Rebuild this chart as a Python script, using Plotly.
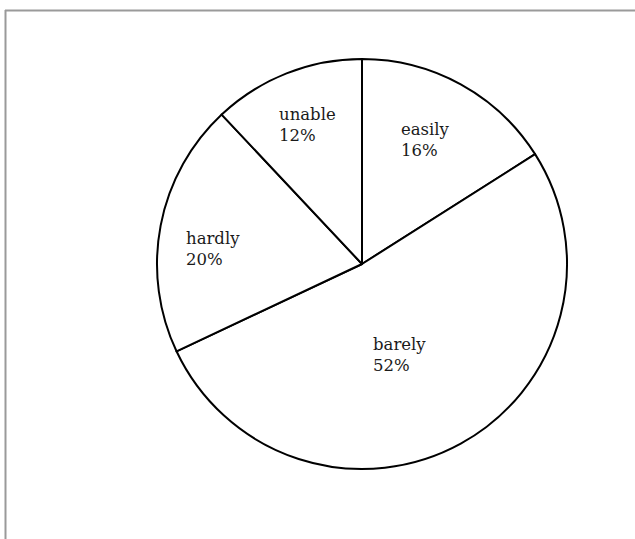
import math
import plotly.graph_objects as go

# Pie data
labels = ["easily", "barely", "hardly", "unable"]
values = [16, 52, 20, 12]

W, H = 635, 539
CX, CY, R = 362, 264, 205  # pie centre and radius in pixels

# Label placement: fraction of radius and angle tweak (degrees) per slice
label_place = {
    "easily": (0.68, -1.5),
    "barely": (0.48, 6.5),
    "hardly": (0.73, -5.0),
    "unable": (0.73, 0.2),
}

fig = go.Figure(
    go.Pie(
        labels=labels,
        values=values,
        sort=False,
        direction="clockwise",
        rotation=0,
        textinfo="none",
        hoverinfo="label+percent",
        marker=dict(colors=["white"] * len(values), line=dict(color="black", width=2)),
        domain=dict(
            x=[(CX - R) / W, (CX + R) / W],
            y=[(H - CY - R) / H, (H - CY + R) / H],
        ),
        showlegend=False,
    )
)

# Text labels at slice bisectors, left-aligned name and percent
total = sum(values)
annotations = []
start = 0.0
for lab, v in zip(labels, values):
    frac, tweak = label_place[lab]
    mid = (start + v / 2) / total * 360 + tweak
    start += v
    rad = math.radians(mid)
    px = CX + frac * R * math.sin(rad)
    py = CY - frac * R * math.cos(rad)
    pct = round(v / total * 100)
    annotations.append(
        dict(
            x=px / W,
            y=1 - py / H,
            xref="paper",
            yref="paper",
            text=f"{lab}<br>{pct}%",
            showarrow=False,
            align="left",
            xanchor="center",
            yanchor="middle",
            font=dict(family="DejaVu Serif", size=16.5, color="#1a1a1a"),
        )
    )

# Thin gray frame along the top and left edges
shapes = [
    dict(type="line", xref="paper", yref="paper",
         x0=5 / W, x1=1, y0=1 - 10.5 / H, y1=1 - 10.5 / H,
         line=dict(color="#9a9a9a", width=2)),
    dict(type="line", xref="paper", yref="paper",
         x0=5.5 / W, x1=5.5 / W, y0=0, y1=1 - 10 / H,
         line=dict(color="#9a9a9a", width=2)),
]

fig.update_layout(
    width=W,
    height=H,
    margin=dict(l=0, r=0, t=0, b=0),
    paper_bgcolor="white",
    plot_bgcolor="white",
    annotations=annotations,
    shapes=shapes,
)

fig.write_html("out.html")
